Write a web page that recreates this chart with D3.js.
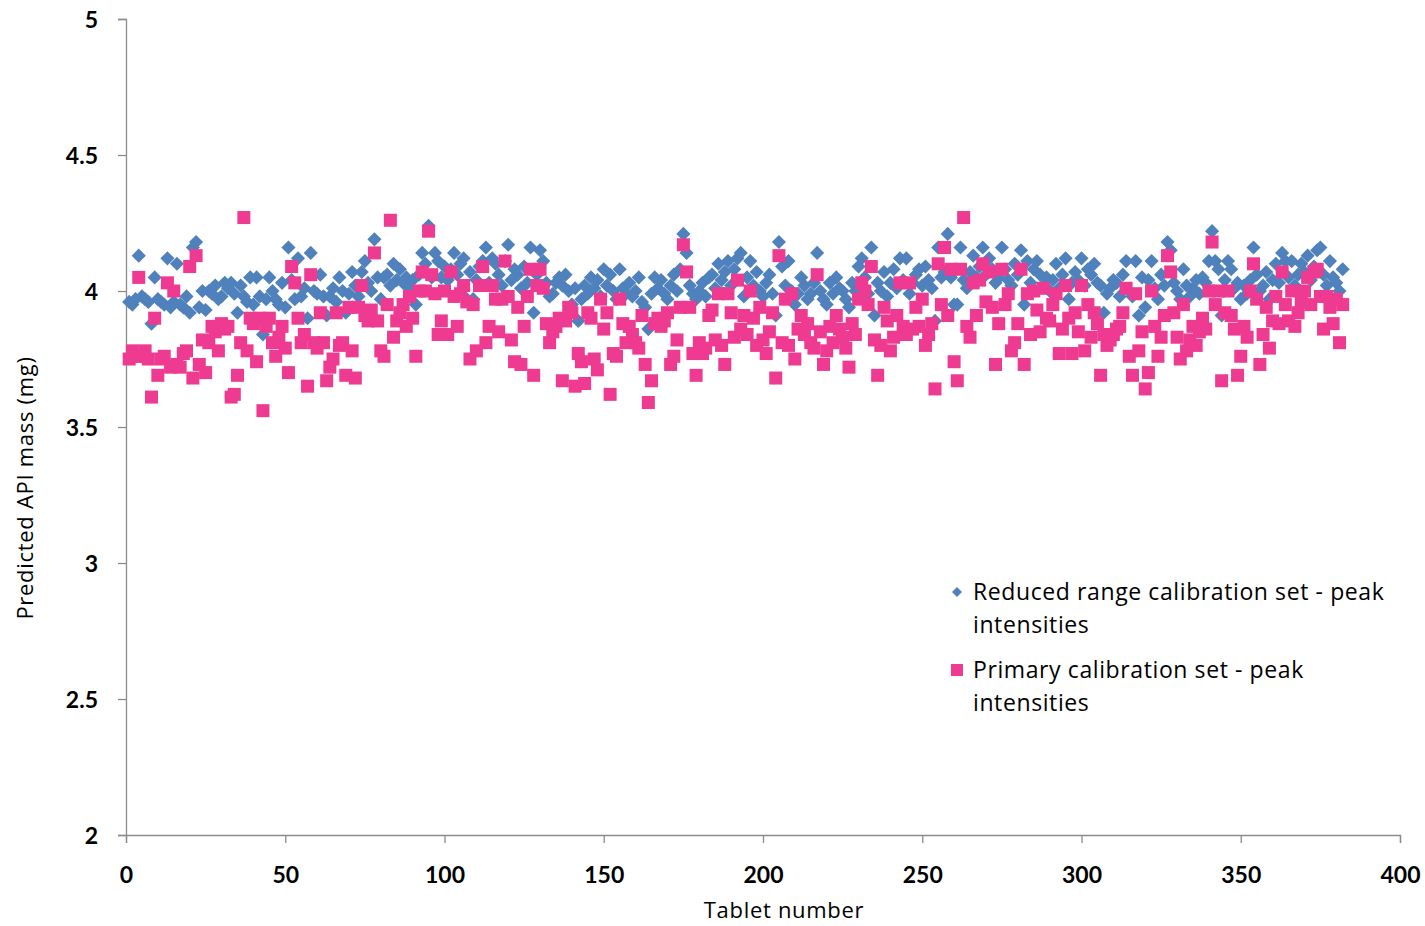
<!DOCTYPE html>
<html>
<head>
<meta charset="utf-8">
<script src="https://cdn.jsdelivr.net/npm/d3@7"></script>
<style>
  html, body { margin: 0; padding: 0; background: #fff; }
  svg { display: block; }
  .tick text { font-family: Lato, "Open Sans", sans-serif; font-weight: 700; font-size: 23px; fill: #000; }
  .axis-title { font-family: "Open Sans", Lato, sans-serif; font-size: 22px; letter-spacing: 0.7px; fill: #000; }
  .legend-text { font-family: "Open Sans", Lato, sans-serif; font-size: 23px; letter-spacing: 0.6px; fill: #000; }
</style>
</head>
<body>
<svg id="chart" width="1425" height="926"></svg>
<script>
// Predicted API mass per tablet, tablets 1..382
const reducedRange = [
  3.96,3.95,3.97,4.13,3.98,3.97,3.96,3.88,4.05,3.97,
  3.96,3.95,4.12,3.94,3.96,4.10,3.95,3.94,3.98,3.92,
  4.16,4.18,3.94,4.00,3.93,4.00,3.99,4.02,3.97,3.98,
  4.03,4.01,4.03,3.99,3.92,4.02,3.98,3.96,4.05,3.95,
  4.05,3.98,3.84,3.97,4.05,4.00,3.97,3.95,4.03,3.94,
  4.16,4.04,3.97,4.12,3.98,4.01,3.90,4.14,4.00,3.99,
  4.06,3.98,3.91,3.98,4.01,3.96,4.05,4.00,3.92,3.99,
  4.07,4.02,3.98,4.07,4.11,4.03,4.00,4.19,4.05,3.97,
  4.05,4.06,4.02,4.10,4.04,4.08,4.03,4.05,4.01,4.04,
  3.95,4.06,4.14,4.10,4.24,4.05,4.14,4.11,4.05,4.09,
  4.04,4.08,4.14,4.06,4.10,4.12,3.97,4.07,3.97,4.04,
  4.09,4.11,4.16,4.03,4.12,4.10,4.06,4.02,4.11,4.17,
  4.04,4.08,4.06,4.01,4.09,4.03,4.16,3.92,4.06,4.15,
  4.11,4.03,3.98,3.99,4.03,4.05,4.02,4.06,4.00,3.95,
  4.01,3.89,3.97,4.02,3.99,4.05,4.01,4.04,3.98,4.08,
  4.02,4.06,4.00,3.97,4.08,4.01,3.99,4.03,3.98,4.00,
  4.05,3.96,3.94,3.86,3.99,4.05,4.01,4.04,3.99,3.97,
  4.02,4.06,4.00,4.08,4.21,4.14,4.02,3.99,3.97,4.00,
  4.03,3.98,4.05,4.06,4.01,4.10,4.04,4.07,4.11,4.02,
  4.08,4.12,4.14,3.98,4.05,4.11,4.02,4.07,4.00,3.98,
  4.03,4.06,3.99,3.91,4.18,4.09,4.02,4.11,4.00,3.95,
  3.99,4.05,4.02,3.97,3.99,4.03,4.14,4.00,3.97,3.95,
  4.03,3.99,4.05,4.01,4.00,3.97,3.94,4.03,4.00,4.09,
  4.12,4.05,3.99,4.16,3.91,4.03,4.00,4.07,3.98,4.03,
  4.08,4.01,4.12,4.04,4.12,3.99,4.03,4.06,4.08,4.02,
  4.09,4.04,4.01,3.89,4.16,4.05,4.07,4.21,4.05,3.95,
  3.95,4.16,4.04,4.01,4.07,4.13,4.05,4.09,4.16,4.06,
  4.12,4.08,4.03,4.05,4.16,4.08,4.04,4.02,4.10,4.06,
  4.15,3.95,4.11,4.03,4.08,4.11,4.06,4.02,4.05,4.00,
  4.04,4.10,4.01,4.06,4.12,3.97,4.03,4.07,4.04,4.12,
  4.02,4.08,4.06,4.10,4.03,4.02,3.92,3.99,4.01,4.04,
  4.03,3.98,4.06,4.11,4.00,3.98,4.11,3.91,4.05,3.94,
  4.04,4.11,4.01,3.97,4.06,4.02,4.18,4.15,4.03,4.00,
  3.97,4.08,4.02,3.98,4.01,4.04,3.99,4.05,4.03,4.11,
  4.22,4.11,4.08,3.91,4.04,4.11,4.08,4.01,4.03,3.97,
  4.02,3.99,4.04,4.16,4.06,4.00,4.02,4.07,3.97,4.04,
  4.10,4.03,4.14,4.11,4.05,4.11,4.02,4.06,4.10,4.07,
  4.13,4.04,4.09,4.15,4.16,4.06,4.02,4.11,4.05,4.03,
  4.00,4.08
];

const primary = [
  3.75,3.78,3.76,4.05,3.76,3.78,3.75,3.61,3.90,3.69,
  3.75,3.76,4.03,3.72,4.00,3.73,3.72,3.77,3.78,4.09,
  3.68,4.13,3.73,3.82,3.70,3.81,3.87,3.85,3.78,3.88,
  3.86,3.87,3.61,3.62,3.69,3.81,4.27,3.78,3.90,3.88,
  3.74,3.90,3.56,3.87,3.90,3.81,3.76,3.83,3.87,3.79,
  3.70,4.09,4.03,3.90,3.81,3.84,3.65,4.06,3.81,3.79,
  3.92,3.81,3.67,3.72,3.75,3.92,3.80,3.81,3.69,3.94,
  3.78,3.68,3.94,4.02,3.91,3.89,3.93,4.14,3.89,3.78,
  3.76,3.95,4.26,3.83,3.89,3.92,3.95,3.87,3.98,3.90,
  3.76,4.00,4.07,4.00,4.22,4.06,3.99,3.84,3.89,4.00,
  3.84,4.07,3.98,3.87,3.99,4.02,3.96,3.75,3.95,3.78,
  4.02,4.09,3.81,3.87,4.02,3.97,3.85,3.97,4.11,3.98,
  3.82,3.74,3.94,3.73,3.87,3.98,4.08,3.69,4.02,4.08,
  4.01,3.88,3.81,3.85,3.87,3.90,3.67,3.89,3.94,3.92,
  3.65,3.77,3.74,3.66,3.92,3.90,3.75,3.71,3.97,3.86,
  3.92,3.62,3.77,3.76,3.97,3.88,3.81,3.87,3.84,3.81,
  3.79,3.91,3.73,3.59,3.67,3.88,3.90,3.87,3.89,3.92,
  3.73,3.76,3.82,3.94,4.17,4.07,3.94,3.77,3.69,3.81,
  3.77,3.79,3.91,3.93,3.82,3.99,3.80,3.73,3.99,3.92,
  3.83,4.04,3.86,3.91,3.84,4.00,3.90,3.80,3.94,3.82,
  3.77,3.85,3.92,3.68,4.13,3.81,3.97,3.80,3.99,3.75,
  3.86,3.91,3.84,3.88,3.81,3.79,4.06,3.85,3.73,3.78,
  3.87,3.81,3.91,3.86,3.83,3.79,3.72,3.88,3.84,3.97,
  4.03,4.00,3.95,4.09,3.82,3.69,3.80,3.94,3.89,3.78,
  3.83,3.91,4.03,3.87,3.84,4.03,3.86,3.94,3.87,3.97,
  3.80,3.84,3.88,3.64,4.10,3.95,4.16,3.91,4.08,3.74,
  3.67,4.08,4.27,3.87,3.83,4.03,3.91,4.04,4.10,3.96,
  4.07,3.94,3.73,3.88,4.08,3.95,3.99,3.78,3.81,3.88,
  4.08,3.73,3.99,3.84,4.00,3.93,3.85,4.01,3.90,3.89,
  3.95,3.99,3.77,3.86,4.02,3.90,3.77,3.92,3.85,4.02,
  3.78,3.95,3.83,3.92,3.88,3.69,3.84,3.80,3.82,3.84,
  3.86,3.87,3.92,4.01,3.76,3.69,3.99,3.78,3.85,3.64,
  3.70,4.00,3.87,3.76,3.83,3.91,4.13,4.07,3.92,3.83,
  3.75,3.95,3.78,3.82,3.87,3.80,3.85,3.90,3.86,4.00,
  4.18,3.95,4.00,3.67,3.92,4.00,3.91,3.86,3.69,3.76,
  3.87,3.83,4.00,4.10,3.97,3.73,3.84,3.94,3.79,3.89,
  3.98,3.88,4.07,3.95,3.89,4.00,3.87,3.92,3.96,4.00,
  4.05,3.95,4.07,4.08,3.98,3.86,3.98,3.94,3.88,3.97,
  3.81,3.95
];

const xTicks = [0, 50, 100, 150, 200, 250, 300, 350, 400];
const yTicks = [2, 2.5, 3, 3.5, 4, 4.5, 5];
const seriesNames = [
  ["Reduced range calibration set - peak", "intensities"],
  ["Primary calibration set - peak", "intensities"]
];
const xTitle = "Tablet number";
const yTitle = "Predicted API mass (mg)";

const BLUE = "#4F81BD";
const PINK = "#EE3A90";
const AXIS = "#8c8c8c";

const svg = d3.select("#chart");

const x = d3.scaleLinear().domain([0, 400]).range([126, 1400]);
const y = d3.scaleLinear().domain([2, 5]).range([835, 19]);

// Axes
const xAxis = d3.axisBottom(x).tickValues(xTicks).tickSize(8).tickPadding(24).tickFormat(d3.format("d"));
const yAxis = d3.axisLeft(y).tickValues(yTicks).tickSize(8).tickPadding(20).tickFormat(d => d3.format("")(d));

const gx = svg.append("g").attr("transform", `translate(0,${y(2)})`).call(xAxis);
const gy = svg.append("g").attr("transform", `translate(${x(0)},0)`).call(yAxis);
[gx, gy].forEach(g => {
  g.select(".domain").attr("stroke", AXIS).attr("stroke-width", 1.3);
  g.selectAll(".tick line").attr("stroke", AXIS).attr("stroke-width", 1.3);
});
gx.selectAll(".tick text").attr("dy", "0.71em");
gy.selectAll(".tick text").attr("dy", "0.36em");

// Axis titles
svg.append("text").attr("class", "axis-title")
  .attr("x", 784).attr("y", 918).attr("text-anchor", "middle").text(xTitle);
svg.append("text").attr("class", "axis-title")
  .attr("transform", `translate(33,488) rotate(-90)`)
  .attr("text-anchor", "middle").text(yTitle);

// Markers
const diamond = d3.symbol().type(d3.symbolSquare).size(100);
const plot = svg.append("g");

plot.append("g").selectAll("path")
  .data(reducedRange)
  .join("path")
  .attr("d", diamond)
  .attr("transform", (d, i) => `translate(${x(i + 1)},${y(d)}) rotate(45)`)
  .attr("fill", BLUE);

plot.append("g").selectAll("rect")
  .data(primary)
  .join("rect")
  .attr("x", (d, i) => x(i + 1) - 6.5)
  .attr("y", d => y(d) - 6.5)
  .attr("width", 13).attr("height", 13)
  .attr("fill", PINK);

// Legend
const legend = svg.append("g");
const legendRows = [
  { color: BLUE, shape: "diamond", lines: seriesNames[0], top: 592 },
  { color: PINK, shape: "square", lines: seriesNames[1], top: 670 }
];
legendRows.forEach(r => {
  if (r.shape === "diamond") {
    legend.append("path")
      .attr("d", d3.symbol().type(d3.symbolSquare).size(50))
      .attr("transform", `translate(957,${r.top}) rotate(45)`)
      .attr("fill", r.color);
  } else {
    legend.append("rect")
      .attr("x", 951).attr("y", r.top - 6).attr("width", 12).attr("height", 12)
      .attr("fill", r.color);
  }
  r.lines.forEach((t, k) => {
    legend.append("text").attr("class", "legend-text")
      .attr("x", 973).attr("y", r.top + 8 + k * 33).text(t);
  });
});
</script>
</body>
</html>
